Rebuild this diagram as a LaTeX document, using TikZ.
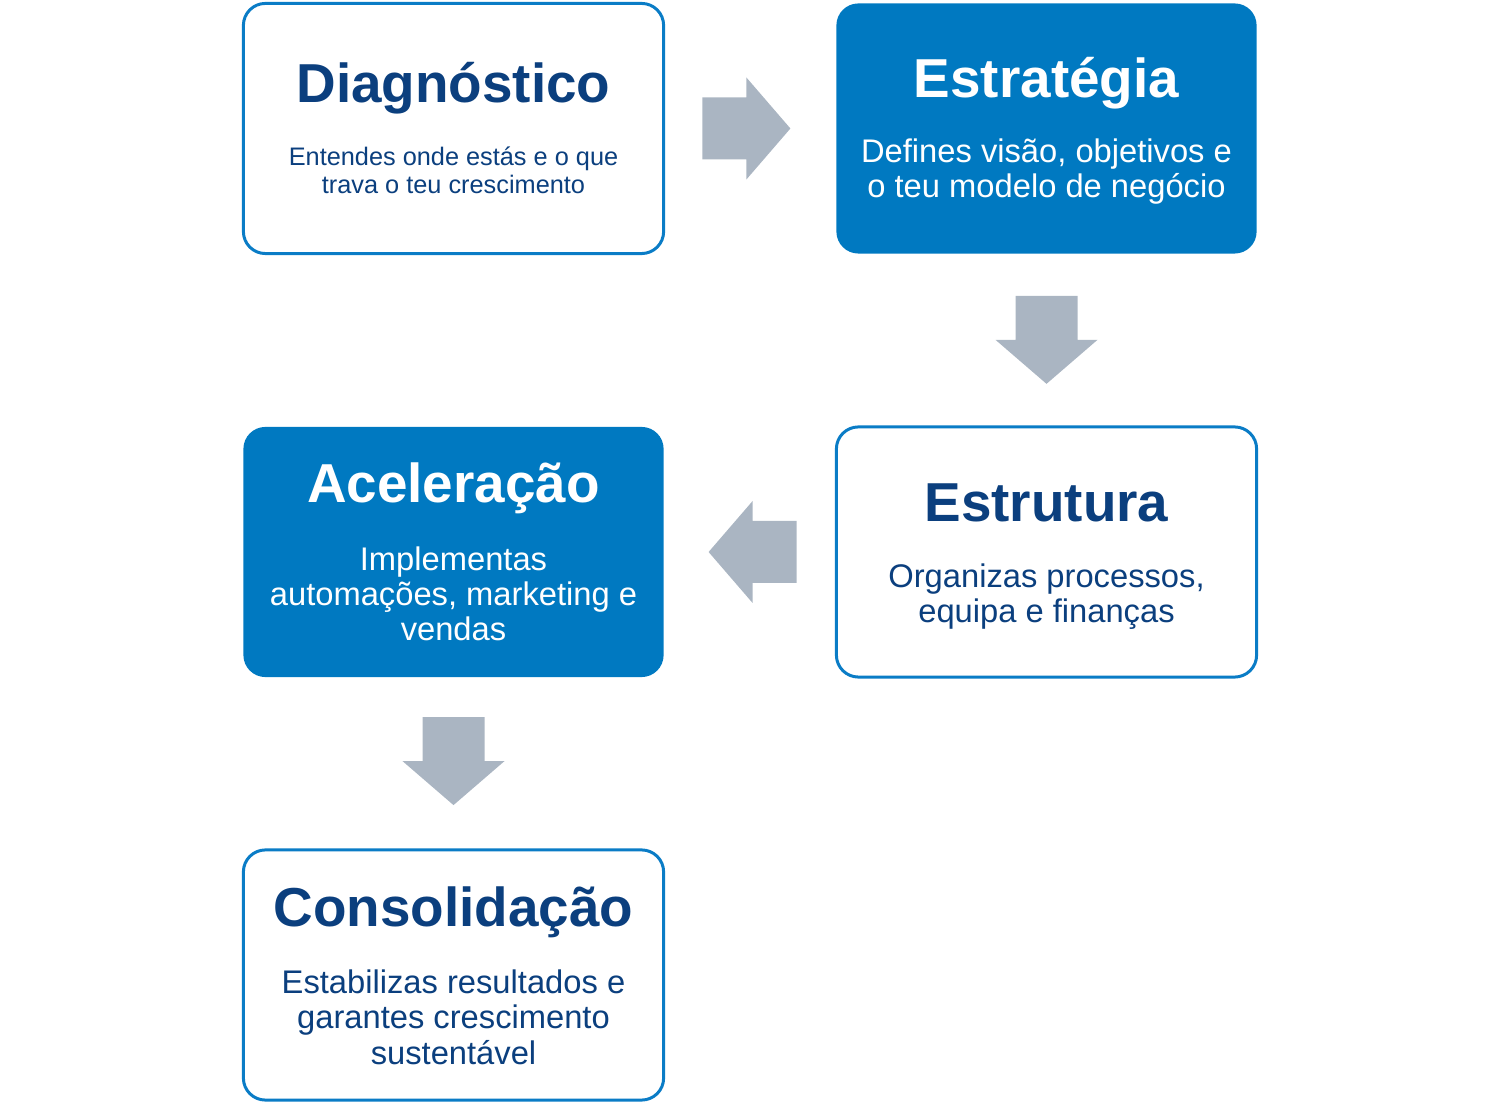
\documentclass[tikz,border=0pt]{standalone}
\usepackage{fontspec}
\setmainfont{Liberation Sans}
\usetikzlibrary{calc}
\definecolor{boxblue}{HTML}{0079C1}
\definecolor{edgeblue}{HTML}{0A7CC6}
\definecolor{navy}{HTML}{0B3F7E}
\definecolor{arrowgray}{HTML}{AAB5C2}
\tikzset{
  stage/.style={rounded corners=0.22cm, minimum width=4.2cm, minimum height=2.5cm, inner sep=0pt},
  stageopen/.style={stage, draw=edgeblue, line width=0.85pt, fill=white},
  stagefull/.style={stage, fill=boxblue},
  heading/.style={anchor=base, inner sep=0pt, font=\fontsize{15.6}{18}\selectfont\bfseries},
  blurb/.style={anchor=base, inner sep=0pt, align=center, font=\fontsize{9.3}{10}\selectfont},
  blurbsmall/.style={blurb, font=\fontsize{7.2}{8}\selectfont},
  pics/steparrow/.style={code={
    \fill[arrowgray] (-44,-31) -- (0,-31) -- (0,-51) -- (44,0) -- (0,51) -- (0,31) -- (-44,31) -- cycle;}}
}
\begin{document}
\begin{tikzpicture}[x=0.01cm, y=-0.01cm]
\useasboundingbox (0,0) rectangle (1500,1104);
% the five stages
\node[stageopen] (diag) at (453.5,128.5) {};
\node[stagefull] (estr) at (1046.5,128.5) {};
\node[stageopen] (estru) at (1046.5,552) {};
\node[stagefull] (acel) at (453.5,552) {};
\node[stageopen] (cons) at (453.5,975) {};

\node[heading, text=navy] (diagT) at ($(diag.center)+(0,-25.5)$) {Diagnóstico};
\node[blurbsmall, text=navy] (diagB) at ($(diag.center)+(0,65.5)$) {Entendes onde estás e o que\\trava o teu crescimento};

\node[heading, text=white] (estrT) at ($(estr.center)+(0,-30.5)$) {Estratégia};
\node[blurb, text=white] (estrB) at ($(estr.center)+(0,69.5)$) {Defines visão, objetivos e\\o teu modelo de negócio};

\node[heading, text=navy] (estruT) at ($(estru.center)+(0,-30)$) {Estrutura};
\node[blurb, text=navy] (estruB) at ($(estru.center)+(0,71)$) {Organizas processos,\\equipa e finanças};

\node[heading, text=white] (acelT) at ($(acel.center)+(0,-49)$) {Aceleração};
\node[blurb, text=white] (acelB) at ($(acel.center)+(0,89)$) {Implementas\\automações, marketing e\\vendas};

\node[heading, text=navy] (consT) at ($(cons.center)+(0,-48)$) {Consolidação};
\node[blurb, text=navy] (consB) at ($(cons.center)+(0,89)$) {Estabilizas resultados e\\garantes crescimento\\sustentável};

% arrows between stages
\pic at ($(diag.east)!.5!(estr.west)+(-4,0)$) {steparrow};
\pic[rotate=-90] at ($(estr.south)!.5!(estru.north)$) {steparrow};
\pic[rotate=180] at ($(estru.west)!.5!(acel.east)+(3,0)$) {steparrow};
\pic[rotate=-90] at ($(acel.south)!.5!(cons.north)+(0,-2)$) {steparrow};
\end{tikzpicture}
\end{document}
